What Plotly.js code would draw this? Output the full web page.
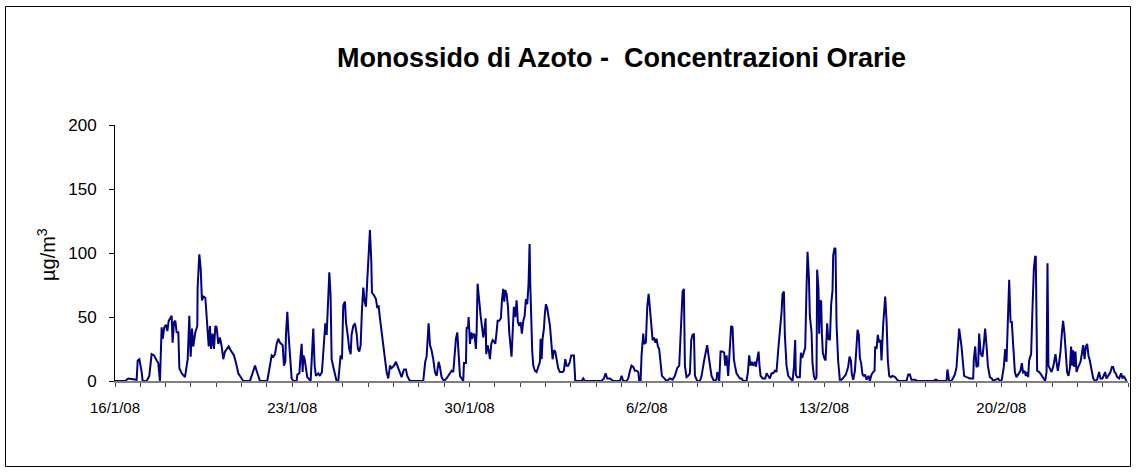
<!DOCTYPE html>
<html>
<head>
<meta charset="utf-8">
<script src="https://cdn.plot.ly/plotly-3.0.1.min.js"></script>
<style>
body { margin: 0; background: #fff; }
#myDiv { width: 1136px; height: 473px; }
</style>
</head>
<body>
<div id="myDiv"></div>
<script>
// hours after 16/1/08 00:00 and NO concentration (µg/m3) read at each vertex
var hours = [
    0, 9.5, 12.6, 20.5, 21.5, 23.1, 25.3, 26.2, 30, 32.5, 34.7, 37, 39.5, 41, 42.6, 44.2, 45.2, 46.7, 48.3, 49.6,
    50.9, 52.7, 53.7, 54.6, 55.9, 57.2, 58.4, 60, 61, 63.2, 66.3, 68.9, 70.4, 71.7, 73, 74.2, 76.1, 78, 78.3, 79.9,
    81.2, 82.4, 83.7, 85.6, 86.9, 88.8, 90, 91, 92.5, 93.8, 95.1, 96.3, 97.9, 99.5, 101.1, 102.6, 104.2, 105.8, 107.7, 109.6,
    111.5, 112.8, 115.3, 116.8, 120, 121.6, 127.9, 130.4, 132.7, 134.2, 135.8, 137.4, 144.3, 146.9, 148.5, 150, 151.6, 153.2, 154.7, 156.3,
    158.9, 160.1, 161.4, 162, 163.3, 164.5, 165.8, 167.4, 169, 172.1, 172.8, 174.7, 175.9, 176.9, 177.8, 178.5, 179.7, 181, 182.2, 185.4,
    186.7, 187.9, 189.2, 190.4, 192.7, 194.2, 196.1, 196.8, 198.3, 199.3, 200.6, 201.5, 203.1, 204.3, 205.3, 206.9, 208.5, 210, 211.6, 212.5,
    213.8, 215.1, 216.3, 217.9, 218.9, 220.8, 222, 223.3, 224.2, 225.8, 227.4, 229, 230.2, 231.5, 232.8, 234, 235.3, 236.6, 237.8, 239.1,
    240.4, 241.6, 242.9, 243.5, 245.4, 247.3, 248.6, 249.8, 251.1, 252.7, 254.2, 255.8, 257.4, 259, 260.6, 262.1, 264.4, 266.2, 267.5, 269.4,
    271.6, 273.8, 275.7, 277, 279.5, 292.1, 294, 295.3, 297.2, 298.5, 300, 301.6, 303.2, 304.8, 306.7, 307.9, 309.5, 311.7, 314.2, 317.4,
    319, 320.6, 321.8, 323.1, 324.4, 325.6, 326.9, 328.5, 330, 330.7, 332.6, 333.2, 334.5, 335.1, 336.4, 337.6, 338.6, 339.5, 340.8, 342,
    342.7, 343.6, 344.9, 346.5, 347.7, 349, 350.3, 351.2, 351.8, 353.1, 354.4, 355.3, 356.6, 357.9, 359.1, 360.4, 361.6, 362.6, 364.1, 365.7,
    366.7, 367.9, 368.9, 369.8, 371.1, 372.4, 373.6, 374.9, 375.8, 376.8, 378, 379.3, 380.6, 381.8, 383.1, 384.4, 385.6, 386.9, 388.2, 389.4,
    390.7, 391.9, 392.9, 393.5, 394.5, 395.4, 396.4, 397.9, 399.5, 401.1, 402.7, 403.3, 404.3, 405.2, 406.5, 407.4, 408.4, 409.6, 410.9, 412.2,
    413.7, 414.7, 415.9, 417.2, 418.5, 420, 421.6, 424.2, 425.4, 426.7, 428, 429.5, 431.1, 432.4, 434.9, 436.2, 442.2, 443.7, 445.3, 461.1,
    463.3, 464.9, 466.5, 469, 472.2, 478.5, 480.1, 481.6, 484.8, 486.4, 488, 489.5, 491.1, 492.7, 494.3, 495.9, 496.8, 498.1, 499, 500.6,
    501.5, 503.1, 504.4, 505.7, 506.9, 508.2, 509.5, 510.7, 512, 513.2, 514.5, 515.7, 517, 518.3, 519.5, 522.7, 525.9, 528.4, 530.6, 532.8,
    534.7, 536.3, 537.9, 539.1, 540.1, 541.6, 543.2, 544.8, 546.1, 547.3, 548.6, 549.6, 551.8, 554.3, 555.9, 558.1, 560, 561.2, 562.5, 563.8,
    565.3, 567.6, 570.1, 570.7, 572, 572.6, 573.9, 575.8, 577.3, 578.3, 579.6, 581.1, 582.7, 583.9, 585.2, 586.5, 587.5, 589, 592.2, 593.8,
    595.3, 598.5, 599.8, 601, 602.3, 603.6, 604.8, 606.4, 607.3, 608.6, 609.9, 610.8, 611.8, 613.7, 616.2, 617.5, 619, 620.6, 622.2, 623.8,
    625.4, 626.9, 628.5, 630.1, 631.7, 632.6, 633.9, 634.8, 636.4, 638, 640.2, 642.1, 643.4, 644.6, 645.2, 646.5, 649, 650, 651.2, 652.8,
    654.1, 655.3, 656.3, 657.6, 658.5, 660.1, 661, 662.3, 663.5, 664.8, 665.4, 666.7, 667.3, 668.3, 669.2, 669.9, 670.8, 672.1, 673.4, 674.9,
    675.9, 677.5, 678.7, 680, 680.6, 681.9, 682.8, 683.8, 685.3, 686.9, 688.5, 690.7, 692.6, 694.8, 696.1, 697.4, 698.3, 699.6, 701.2, 702.7,
    703.7, 704.9, 705.9, 707.1, 708.4, 709.7, 710.9, 712.2, 714.1, 715.4, 716.9, 718.5, 719.8, 720.4, 721.7, 722.9, 724.2, 725.5, 726.4, 728,
    729.9, 731.2, 732.4, 733.7, 735.2, 736.8, 739.3, 741.2, 742.2, 750.1, 751.7, 753.3, 754.8, 758, 760.2, 775.4, 777.9, 780.1, 788, 788.9,
    790.5, 792.7, 794.3, 795.9, 797.5, 798.4, 800, 802.2, 803.8, 804.7, 807, 810.1, 813.3, 813.9, 815.2, 816.4, 818, 818.9, 820.5, 822.1,
    823.4, 824.6, 825.9, 827.2, 829.1, 831, 832.2, 835.4, 836.9, 838.5, 840.4, 842.3, 843.6, 844.9, 846.1, 847.4, 848.7, 849.9, 851.2, 852.8,
    854.3, 856.2, 858.1, 859.4, 860.6, 861.9, 863.2, 864.4, 865.4, 866.3, 868.2, 869.5, 870.8, 872, 872.6, 873.9, 875.8, 877.7, 879.6, 881.5,
    882.8, 883.7, 884.6, 885.9, 887.5, 889.1, 890, 891.3, 892.2, 893.5, 894.8, 896, 897.3, 898.5, 899.8, 901.1, 902.3, 903.6, 904.9, 906.1,
    907.1, 908, 909, 910.2, 911.2, 912.4, 913.7, 915, 916.2, 917.5, 918.8, 920, 921.3, 922.5, 923.8, 925.4, 927, 928.9, 930.7, 932.6,
    933.9, 935.8, 937.1, 938.3, 939.6, 941.2, 943.4, 944.7, 945.9, 947.2, 948.4, 949.7, 951.6, 953.5, 954.8, 956, 957.3, 958.5
];

var no = [
    0, 0, 2, 1, 16, 17, 7, 0, 0, 4, 21, 20, 16, 14, 0, 42, 33, 42, 44, 39,
    47, 50, 51, 30, 46, 47, 38, 38, 10, 6, 3, 17, 51, 19, 41, 27, 38, 43, 73, 99,
    88, 63, 66, 65, 49, 27, 43, 25, 37, 25, 43, 42, 29, 34, 27, 17, 23, 25, 27, 24,
    21, 20, 12, 6, 2, 0, 0, 7, 12, 8, 3, 0, 0, 12, 20, 19, 21, 29, 33, 30,
    28, 12, 15, 36, 54, 36, 23, 2, 0, 0, 5, 6, 20, 29, 7, 20, 17, 10, 3, 0,
    19, 41, 12, 4, 6, 4, 7, 14, 29, 45, 36, 57, 85, 67, 17, 11, 4, 0, 0, 12,
    20, 17, 59, 62, 46, 34, 25, 21, 36, 43, 45, 37, 25, 23, 28, 55, 73, 62, 58, 79,
    99, 118, 93, 69, 67, 64, 57, 59, 49, 37, 28, 17, 7, 2, 12, 10, 12, 15, 12, 7,
    3, 9, 9, 4, 0, 0, 15, 19, 45, 28, 24, 17, 7, 4, 15, 11, 3, 0, 2, 6,
    8, 7, 23, 33, 38, 17, 4, 2, 0, 14, 14, 42, 41, 50, 29, 38, 33, 37, 36, 25,
    38, 76, 62, 51, 43, 34, 41, 49, 21, 28, 23, 17, 29, 32, 31, 29, 38, 47, 47, 49,
    63, 72, 62, 71, 68, 58, 38, 25, 19, 37, 58, 50, 63, 46, 43, 46, 37, 47, 51, 64,
    60, 76, 107, 77, 41, 23, 12, 8, 7, 11, 15, 33, 17, 33, 41, 53, 60, 57, 51, 43,
    28, 17, 24, 23, 17, 10, 7, 7, 8, 17, 12, 12, 15, 20, 20, 0, 0, 2, 0, 0,
    2, 6, 2, 2, 0, 0, 4, 0, 0, 2, 8, 12, 11, 8, 8, 7, 0, 0, 20, 37,
    29, 30, 58, 68, 57, 43, 32, 34, 30, 33, 27, 25, 15, 4, 3, 0, 2, 1, 4, 10,
    12, 41, 70, 72, 12, 3, 4, 6, 32, 36, 37, 4, 0, 0, 4, 15, 23, 28, 20, 12,
    4, 0, 1, 7, 4, 0, 23, 23, 22, 12, 20, 4, 23, 43, 42, 17, 12, 6, 2, 2,
    0, 0, 7, 20, 12, 15, 12, 15, 11, 17, 23, 12, 4, 2, 2, 6, 4, 2, 6, 6,
    8, 7, 24, 38, 54, 68, 70, 36, 12, 4, 2, 0, 11, 32, 5, 3, 3, 22, 18, 22,
    26, 71, 101, 81, 51, 38, 14, 4, 1, 3, 87, 71, 37, 63, 62, 37, 22, 18, 16, 45,
    33, 32, 60, 71, 98, 104, 103, 44, 16, 1, 1, 3, 5, 11, 19, 16, 5, 1, 8, 27,
    40, 36, 18, 14, 5, 4, 5, 1, 4, 0, 5, 7, 8, 27, 25, 36, 30, 32, 16, 44,
    66, 47, 16, 4, 3, 4, 3, 1, 0, 0, 5, 5, 1, 1, 0, 0, 1, 0, 0, 9,
    0, 0, 3, 5, 11, 25, 41, 27, 15, 4, 3, 2, 2, 17, 27, 11, 12, 37, 21, 19,
    29, 41, 28, 12, 3, 2, 0, 1, 2, 0, 1, 11, 25, 15, 49, 79, 46, 46, 28, 7,
    3, 6, 8, 14, 6, 8, 4, 7, 3, 16, 21, 57, 88, 97, 97, 8, 7, 5, 2, 0,
    7, 92, 12, 10, 7, 11, 17, 21, 15, 8, 15, 23, 37, 47, 37, 17, 7, 4, 10, 27,
    12, 24, 11, 23, 7, 10, 12, 15, 21, 28, 17, 27, 29, 20, 16, 8, 2, 0, 1, 7,
    2, 2, 4, 7, 2, 4, 7, 11, 11, 7, 6, 3, 2, 6, 2, 4, 2, 0
];

var yTicks = [0, 50, 100, 150, 200];
var titleText = 'Monossido di Azoto -\u00a0 Concentrazioni Orarie';

var start = Date.UTC(2008, 0, 16);
var HOUR = 3600000;
var DAY = 24 * HOUR;

var trace = {
    x: hours.map(function (h) { return start + h * HOUR; }),
    y: no,
    type: 'scatter',
    mode: 'lines',
    line: { color: '#000080', width: 2 },
    hoverinfo: 'skip'
};

var font = 'Arial, "Liberation Sans", sans-serif';
var m = { l: 115, r: 8, t: 125, b: 92 };
var pw = 1136 - m.l - m.r;
var ph = 473 - m.t - m.b;
// page pixels -> paper coordinates (frame and y title)
function px(x) { return (x - m.l) / pw; }
function py(y) { return (473 - m.b - y) / ph; }

var layout = {
    width: 1136,
    height: 473,
    margin: m,
    paper_bgcolor: '#fff',
    plot_bgcolor: '#fff',
    showlegend: false,
    title: {
        text: titleText,
        font: { family: font, size: 27, color: '#000', weight: 'bold' },
        x: 0.5,
        xref: 'paper',
        y: 1 - 58 / 473,
        yref: 'container',
        yanchor: 'middle'
    },
    xaxis: {
        type: 'date',
        range: [start, start + 40 * DAY],
        tick0: start,
        dtick: 7 * DAY,
        tickformat: '%-d/%-m/%y',
        ticks: 'outside',
        ticklen: 4,
        tickcolor: '#404040',
        showline: true,
        linecolor: '#808080',
        linewidth: 2,
        showgrid: false,
        zeroline: false,
        ticklabelstandoff: 8,
        tickfont: { family: font, size: 15, color: '#000' },
        minor: { tick0: start, dtick: DAY, ticks: 'outside', ticklen: 4, tickcolor: '#404040', showgrid: false }
    },
    yaxis: {
        range: [0, 200],
        tickvals: yTicks,
        ticks: 'outside',
        ticklen: 5,
        tickcolor: '#000',
        showline: true,
        linecolor: '#000',
        linewidth: 1,
        showgrid: false,
        zeroline: false,
        ticklabelstandoff: 9,
        tickfont: { family: font, size: 17, color: '#000' }
    },
    annotations: [{
        text: 'µg/m<sup>3</sup>',
        xref: 'paper', yref: 'paper',
        x: px(46), y: py(255),
        xanchor: 'center', yanchor: 'middle',
        textangle: -90,
        showarrow: false,
        font: { family: font, size: 20, color: '#000' }
    }],
    shapes: [{
        type: 'rect',
        xref: 'paper', yref: 'paper',
        x0: px(5.5), x1: px(1130.5),
        y0: py(466.5), y1: py(6.5),
        line: { color: '#000', width: 1 }
    }]
};

Plotly.newPlot('myDiv', [trace], layout, { staticPlot: true });
</script>
</body>
</html>
